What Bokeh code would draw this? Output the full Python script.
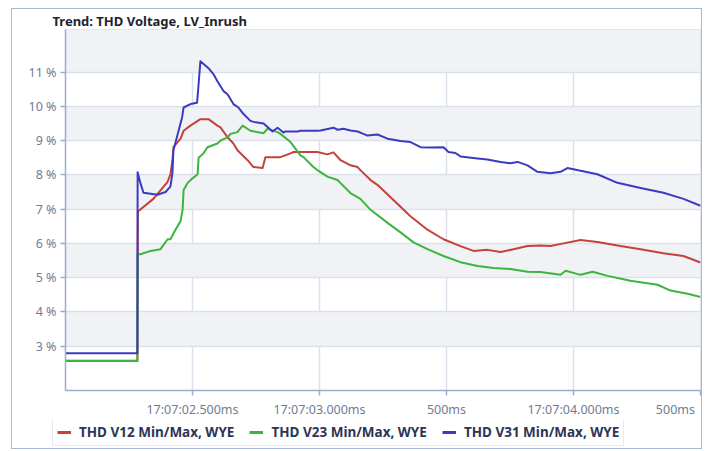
from bokeh.plotting import figure
from bokeh.layouts import column
from bokeh.models import Range1d, FixedTicker, Legend, LegendItem, ColumnDataSource
from bokeh.embed import file_html
from bokeh.resources import INLINE

# time in seconds after 17:07:00
t_v31 = [2.000, 2.283, 2.284, 2.295, 2.307, 2.335, 2.362, 2.394, 2.413, 2.421, 2.425, 2.459, 2.465, 2.492,
         2.518, 2.524, 2.531, 2.563, 2.583, 2.598, 2.622, 2.638, 2.661, 2.681, 2.701, 2.728, 2.740, 2.780,
         2.815, 2.835, 2.858, 2.866, 2.913, 2.925, 2.992, 3.004, 3.055, 3.071, 3.094, 3.122, 3.150, 3.173,
         3.189, 3.228, 3.268, 3.319, 3.358, 3.398, 3.437, 3.488, 3.508, 3.535, 3.555, 3.622, 3.661, 3.713,
         3.752, 3.780, 3.819, 3.858, 3.909, 3.949, 3.976, 4.028, 4.094, 4.173, 4.264, 4.354, 4.433, 4.500]
v31 = [2.79, 2.79, 8.08, 7.76, 7.48, 7.45, 7.42, 7.50, 7.66, 8.05, 8.72, 9.68, 9.97, 10.07,
       10.11, 10.65, 11.32, 11.12, 10.94, 10.74, 10.45, 10.36, 10.07, 9.97, 9.78, 9.58, 9.55, 9.50,
       9.27, 9.38, 9.24, 9.27, 9.27, 9.29, 9.29, 9.30, 9.38, 9.32, 9.35, 9.30, 9.27, 9.20,
       9.15, 9.18, 9.06, 8.99, 8.96, 8.81, 8.80, 8.81, 8.67, 8.64, 8.54, 8.48, 8.45, 8.38,
       8.34, 8.38, 8.28, 8.09, 8.05, 8.09, 8.20, 8.12, 8.02, 7.77, 7.62, 7.48, 7.30, 7.10]

t_v12 = [2.000, 2.283, 2.285, 2.346, 2.402, 2.413, 2.421, 2.425, 2.453, 2.465, 2.492, 2.531, 2.563, 2.598,
         2.610, 2.638, 2.661, 2.677, 2.717, 2.740, 2.776, 2.787, 2.846, 2.886, 2.898, 2.992, 3.031, 3.055,
         3.083, 3.122, 3.150, 3.161, 3.201, 3.228, 3.291, 3.358, 3.425, 3.488, 3.555, 3.606, 3.661, 3.713,
         3.764, 3.819, 3.870, 3.909, 3.961, 4.028, 4.094, 4.185, 4.264, 4.354, 4.433, 4.500]
v12 = [2.57, 2.57, 6.93, 7.30, 7.80, 8.02, 8.43, 8.81, 9.06, 9.29, 9.44, 9.63, 9.63, 9.44,
       9.39, 9.10, 8.92, 8.72, 8.43, 8.23, 8.20, 8.52, 8.52, 8.63, 8.67, 8.67, 8.60, 8.66,
       8.43, 8.28, 8.23, 8.14, 7.85, 7.71, 7.27, 6.79, 6.40, 6.12, 5.92, 5.78, 5.81, 5.75,
       5.83, 5.92, 5.94, 5.92, 6.00, 6.10, 6.04, 5.92, 5.83, 5.71, 5.63, 5.44]

t_v23 = [2.000, 2.283, 2.284, 2.295, 2.335, 2.374, 2.402, 2.413, 2.433, 2.453, 2.461, 2.465, 2.480, 2.500,
         2.520, 2.524, 2.543, 2.559, 2.598, 2.610, 2.638, 2.650, 2.677, 2.697, 2.728, 2.780, 2.795, 2.835,
         2.846, 2.886, 2.925, 2.937, 2.976, 2.992, 3.031, 3.071, 3.083, 3.122, 3.161, 3.201, 3.268, 3.319,
         3.370, 3.425, 3.488, 3.555, 3.622, 3.685, 3.752, 3.819, 3.870, 3.949, 3.969, 4.028, 4.075, 4.134,
         4.224, 4.331, 4.382, 4.449, 4.500]
v23 = [2.56, 2.56, 5.68, 5.68, 5.78, 5.83, 6.12, 6.12, 6.40, 6.65, 6.98, 7.56, 7.76, 7.90,
       8.02, 8.50, 8.63, 8.81, 8.92, 9.00, 9.10, 9.20, 9.25, 9.44, 9.29, 9.22, 9.35, 9.25,
       9.20, 8.96, 8.57, 8.52, 8.23, 8.14, 7.95, 7.85, 7.76, 7.47, 7.30, 6.98, 6.60, 6.32,
       6.03, 5.83, 5.63, 5.45, 5.34, 5.28, 5.25, 5.17, 5.16, 5.08, 5.20, 5.08, 5.17, 5.05,
       4.91, 4.79, 4.62, 4.53, 4.43]

series_names = ["THD V12 Min/Max, WYE", "THD V23 Min/Max, WYE", "THD V31 Min/Max, WYE"]
series_colors = ["#c4423c", "#3db53d", "#3b3bbf"]

x_ticks = [2.5, 3.0, 3.5, 4.0, 4.5]
x_tick_labels = ["17:07:02.500ms", "17:07:03.000ms", "500ms", "17:07:04.000ms",
                 "500ms" + "\u00a0" * 2]
y_ticks = [3, 4, 5, 6, 7, 8, 9, 10, 11]
y_tick_labels = ["%d %%" % v for v in y_ticks]

FONT = "Noto Sans"

# ---- main chart ----
p = figure(width=689, height=411, x_range=Range1d(2.0, 4.5), y_range=Range1d(1.7, 12.25),
           output_backend="svg", toolbar_location=None,
           min_border_left=53, min_border_right=1, min_border_top=0, min_border_bottom=0)

p.title.text = "Trend: THD Voltage, LV_Inrush"
p.title.text_font = FONT
p.title.text_font_size = "13px"
p.title.text_font_style = "bold"
p.title.text_color = "#1e2230"
p.title.align = "left"
p.title.offset = -13
p.title.standoff = 0

p.background_fill_color = "white"
p.border_fill_color = "white"
p.outline_line_color = "#dde3ec"

for ax in (p.xaxis[0], p.yaxis[0]):
    ax.axis_line_color = "#9aabcc"
    ax.axis_line_width = 1.5
    ax.major_tick_line_color = "#9aabcc"
    ax.major_tick_line_width = 1.5
    ax.major_tick_out = 5
    ax.major_tick_in = 0
    ax.minor_tick_line_color = None
    ax.major_label_text_font = FONT
    ax.major_label_text_font_size = "12.5px"
    ax.major_label_text_color = "#6f7d94"

p.xaxis[0].ticker = FixedTicker(ticks=x_ticks)
p.xaxis[0].major_label_overrides = dict(zip(x_ticks, x_tick_labels))
p.xaxis[0].major_label_standoff = 5
p.yaxis[0].ticker = FixedTicker(ticks=y_ticks)
p.yaxis[0].major_label_overrides = dict(zip(y_ticks, y_tick_labels))
p.yaxis[0].major_label_standoff = 4

p.xgrid.grid_line_color = "#dbe1ea"
p.xgrid.grid_line_width = 1.5
p.ygrid.grid_line_color = "#dbe1ea"
p.ygrid.grid_line_width = 1.5
p.ygrid.band_fill_color = "#f0f2f6"
p.ygrid.band_fill_alpha = 1.0

# ---- legend strip (its own small figure, renderers lie outside its view) ----
pl = figure(width=689, height=28, x_range=Range1d(2.0, 4.5), y_range=Range1d(-2.0, -1.0),
            output_backend="svg", toolbar_location=None,
            x_axis_location=None, y_axis_location=None,
            min_border_left=0, min_border_right=0, min_border_top=0, min_border_bottom=0)
pl.grid.visible = False
pl.outline_line_color = None
pl.background_fill_color = "white"
pl.border_fill_color = "white"

legend_x = 0
try:
    pl.frame_align = False
    legend_x = 40
except Exception:
    legend_x = 0

items = []
for (tx, vy), name, col in zip([(t_v12, v12), (t_v23, v23), (t_v31, v31)], series_names, series_colors):
    src = ColumnDataSource(data=dict(t=tx, v=vy))
    p.line("t", "v", source=src, line_color=col, line_width=2, line_join="round")
    r = pl.line("t", "v", source=src, line_color=col, line_width=3)
    items.append(LegendItem(label=name, renderers=[r]))

legend = Legend(items=items, orientation="horizontal", location=(legend_x, 2))
legend.label_text_font = FONT
legend.label_text_font_size = "13.5px"
legend.label_text_font_style = "bold"
legend.label_text_color = "#2c3555"
legend.glyph_width = 14
legend.glyph_height = 12
legend.label_height = 12
legend.padding = 4
legend.spacing = 15
legend.label_standoff = 8
legend.margin = 0
legend.border_line_color = "#cfd5df"
legend.background_fill_color = "white"
legend.background_fill_alpha = 1.0
pl.add_layout(legend)

layout = column(p, pl, spacing=0)
layout.styles = {"margin-left": "12px", "margin-top": "9px", "outline": "1px solid #a9b8d6"}

open("out.html", "w").write(file_html(layout, INLINE))
